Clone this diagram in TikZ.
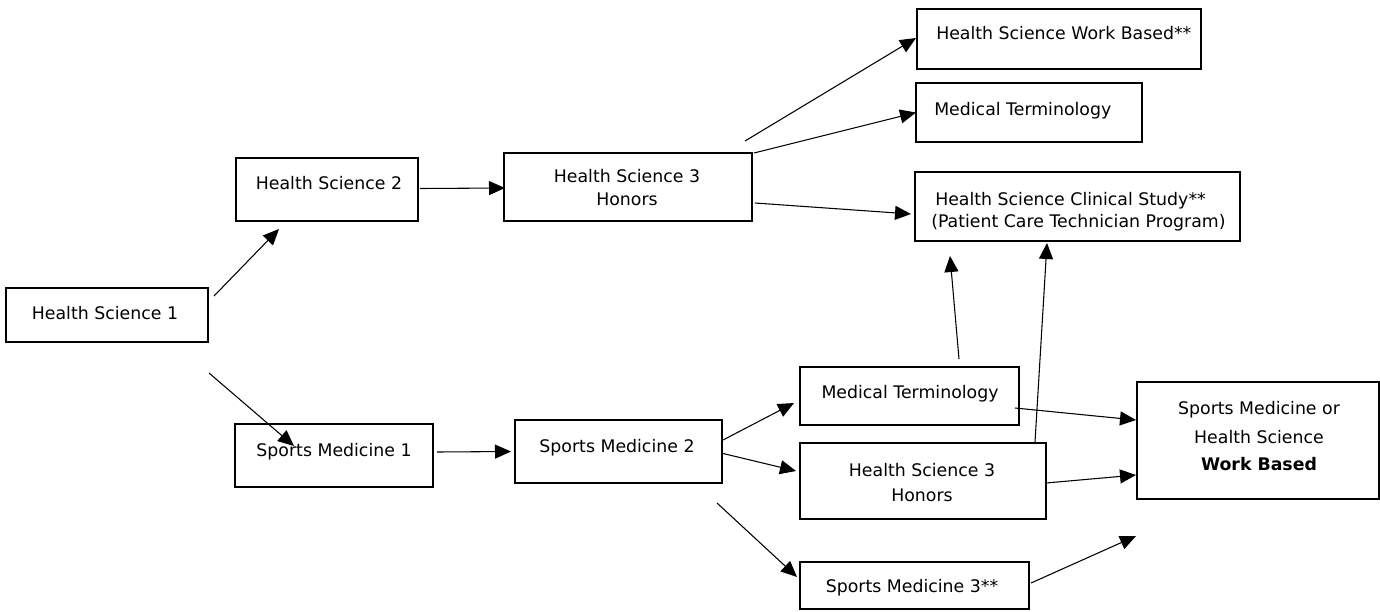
\documentclass[tikz,border=0pt]{standalone}
\usepackage{fontspec}
\setmainfont{DejaVu Sans}
\usetikzlibrary{arrows.meta,calc}
\begin{document}
\begin{tikzpicture}[x=0.75pt,y=-0.75pt,
  box/.style={draw, line width=1.5pt, inner sep=0pt},
  txt/.style={inner sep=0pt, font=\fontsize{13}{15}\selectfont, text height=9.4pt, text depth=0pt},
  conn/.style={line width=0.8pt, -{Triangle[length=12pt,width=10.5pt]}}]
\useasboundingbox (0,0) rectangle (1380,611);
% boxes
\node[box, minimum width=151.5pt, minimum height=40.5pt] (hs1) at (107,315) {};
\node[box, minimum width=136.5pt, minimum height=47.25pt] (hs2) at (327,189.5) {};
\node[box, minimum width=186pt, minimum height=51pt] (hs3a) at (628,187) {};
\node[box, minimum width=213pt, minimum height=45pt] (wb) at (1059,39) {};
\node[box, minimum width=169.5pt, minimum height=44.25pt] (mta) at (1029,112.5) {};
\node[box, minimum width=243.75pt, minimum height=51.75pt] (cl) at (1077.5,206.5) {};
\node[box, minimum width=148.5pt, minimum height=47.25pt] (sm1) at (334,455.5) {};
\node[box, minimum width=155.25pt, minimum height=47.25pt] (sm2) at (618.5,451.5) {};
\node[box, minimum width=164.25pt, minimum height=43.5pt] (mtb) at (909.5,396) {};
\node[box, minimum width=184.5pt, minimum height=57pt] (hs3b) at (923,481) {};
\node[box, minimum width=171.75pt, minimum height=35.25pt] (sm3) at (914.5,585.5) {};
\node[box, minimum width=181.5pt, minimum height=87.75pt] (big) at (1258,440.5) {};
% texts
\node[txt] (t1) at (105,313) {Health Science 1};
\node[txt] (t2) at (329,183) {Health Science 2};
\node[txt] (t3a) at (627,176) {Health Science 3};
\node[txt] (t3b) at (627,199) {Honors};
\node[txt, anchor=west] (t4) at (936,33) {Health Science Work Based**};
\node[txt, anchor=west] (t5) at (934,109) {Medical Terminology};
\node[txt, anchor=west] (t6a) at (935,199) {Health Science Clinical Study**};
\node[txt, anchor=west] (t6b) at (931,221) {(Patient Care Technician Program)};
\node[txt] (t7) at (334,450) {Sports Medicine 1};
\node[txt] (t8) at (617,446) {Sports Medicine 2};
\node[txt] (t9) at (910,392) {Medical Terminology};
\node[txt] (t10a) at (922,470) {Health Science 3};
\node[txt] (t10b) at (922,495) {Honors};
\node[txt] (t11) at (912,586) {Sports Medicine 3**};
\node[txt] (t12a) at (1259,408) {Sports Medicine or};
\node[txt] (t12b) at (1259,437) {Health Science};
\node[txt] (t12c) at (1259,464) {\bfseries Work Based};
\coordinate (smfree) at (1136,536);
% connectors
\draw[conn] ($(hs1.north east)+(5,9)$) -- ($(hs2.south west)+(44,7)$);
\draw[conn] ($(hs1.south east)+(0,30)$) -- ($(sm1.north west)+(60,23)$);
\draw[conn] ($(hs2.east)+(1,-1)$) -- ($(hs3a.west)+(2,1)$);
\draw[conn] ($(hs3a.north east)+(-8,-11)$) -- ($(wb.west)+(0,-1)$);
\draw[conn] ($(hs3a.north east)+(1,1)$) -- ($(mta.west)+(1,0)$);
\draw[conn] ($(hs3a.east)+(2,16)$) -- ($(cl.west)+(-3,7.5)$);
\draw[conn] ($(sm1.east)+(3,-3.5)$) -- ($(sm2.west)+(-3,0)$);
\draw[conn] ($(sm2.east)+(0,-11.5)$) -- ($(mtb.west)+(-5,7)$);
\draw[conn] ($(sm2.east)+(-2,1.5)$) -- ($(hs3b.west)+(-3,-10)$);
\draw[conn] ($(sm2.south east)+(-6,19)$) -- ($(sm3.west)+(-2,-8.5)$);
\draw[conn] ($(mtb.north)+(49.5,-7)$) -- ($(cl.south west)+(36,14)$);
\draw[conn] ($(hs3b.north east)+(-12,0)$) -- ($(cl.south)+(-30.5,1)$);
\draw[conn] ($(mtb.east)+(-5,12)$) -- ($(big.west)+(0,-20.5)$);
\draw[conn] ($(hs3b.east)+(-1,2)$) -- ($(big.west)+(0,34.5)$);
\draw[conn] ($(sm3.east)+(1,-2.5)$) -- (smfree);
\end{tikzpicture}
\end{document}
